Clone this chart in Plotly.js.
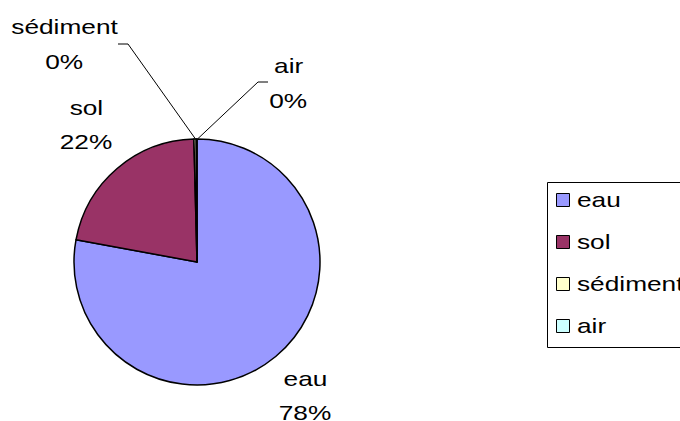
<!DOCTYPE html>
<html>
<head>
<meta charset="utf-8">
<script src="https://cdn.plot.ly/plotly-3.0.1.min.js"></script>
<style>html,body{margin:0;padding:0;background:#fff;}#chart{width:680px;height:421px;}</style>
</head>
<body>
<div id="chart"></div>
<script>
// Data
const categories = ["eau", "sol", "sédiment", "air"];
const values = [77.9, 21.7, 0.3, 0.1];
const colors = ["#9999FF", "#993366", "#FFFFCC", "#CCFFFF"];

const W = 680, H = 421;
const px = x => x / W;
const py = y => 1 - y / H;
const total = values.reduce((a, b) => a + b, 0);
const pct = values.map(v => Math.round(v / total * 100) + "%");

const FONT = "Liberation Sans, Arial, sans-serif";
const LSIZE = 21;
const STRETCH = 1.25;

// label layout (pixel positions of label centers: name line, percent line)
const labelPos = [
  {x: 305, y1: 378, y2: 412},   // eau
  {x: 86,  y1: 108, y2: 141},   // sol
  {x: 64,  y1: 27,  y2: 61},    // sédiment
  {x: 288, y1: 66,  y2: 100}    // air
];

const annotations = [];
categories.forEach((c, i) => {
  const p = labelPos[i];
  annotations.push({xref: "paper", yref: "paper", x: px(p.x), y: py(p.y1), text: c,
    showarrow: false, xanchor: "center", yanchor: "middle", font: {family: FONT, size: LSIZE, color: "#000"}});
  annotations.push({xref: "paper", yref: "paper", x: px(p.x), y: py(p.y2), text: pct[i],
    showarrow: false, xanchor: "center", yanchor: "middle", font: {family: FONT, size: LSIZE, color: "#000"}});
});
const nLabelAnn = annotations.length;

const shapes = [];
// leader lines
shapes.push({type: "path", xref: "paper", yref: "paper",
  path: `M ${px(118)} ${py(44)} L ${px(128)} ${py(44)} L ${px(195.5)} ${py(139)}`,
  line: {color: "#000", width: 1}});
shapes.push({type: "path", xref: "paper", yref: "paper",
  path: `M ${px(268)} ${py(82)} L ${px(258)} ${py(82)} L ${px(197.5)} ${py(139)}`,
  line: {color: "#000", width: 1}});

// legend box
shapes.push({type: "rect", xref: "paper", yref: "paper",
  x0: px(547.5), x1: px(700), y0: py(182.5), y1: py(347.5),
  line: {color: "#000", width: 1}, fillcolor: "rgba(0,0,0,0)"});
categories.forEach((c, i) => {
  const cy = 200 + i * 42;
  shapes.push({type: "rect", xref: "paper", yref: "paper",
    x0: px(556.5), x1: px(569.5), y0: py(cy - 6.5), y1: py(cy + 6.5),
    line: {color: "#000", width: 1}, fillcolor: colors[i]});
  annotations.push({xref: "paper", yref: "paper", x: px(575), y: py(cy - 1), text: c,
    showarrow: false, xanchor: "left", yanchor: "middle", font: {family: FONT, size: LSIZE, color: "#000"}});
});

const trace = {
  type: "pie",
  labels: categories,
  values: values,
  sort: false,
  direction: "clockwise",
  rotation: 0,
  marker: {colors: colors, line: {color: "#000", width: 1.5}},
  textinfo: "none",
  showlegend: false,
  domain: {x: [px(74), px(320)], y: [py(385), py(139)]}
};

const layout = {
  width: W, height: H,
  margin: {l: 0, r: 0, t: 0, b: 0, pad: 0, autoexpand: false},
  paper_bgcolor: "#fff",
  showlegend: false,
  shapes: shapes,
  annotations: annotations
};

const gd = document.getElementById("chart");
Plotly.newPlot(gd, [trace], layout, {displayModeBar: false, staticPlot: true}).then(() => {
  // the reference text is horizontally stretched
  gd.querySelectorAll("g.annotation").forEach(g => {
    const idx = +g.getAttribute("data-index");
    const t = g.querySelector("text.annotation-text");
    if (!t) return;
    t.style.transformBox = "fill-box";
    t.style.transformOrigin = idx >= nLabelAnn ? "left center" : "center center";
    t.style.transform = "scaleX(" + STRETCH + ")";
  });
});
</script>
</body>
</html>
